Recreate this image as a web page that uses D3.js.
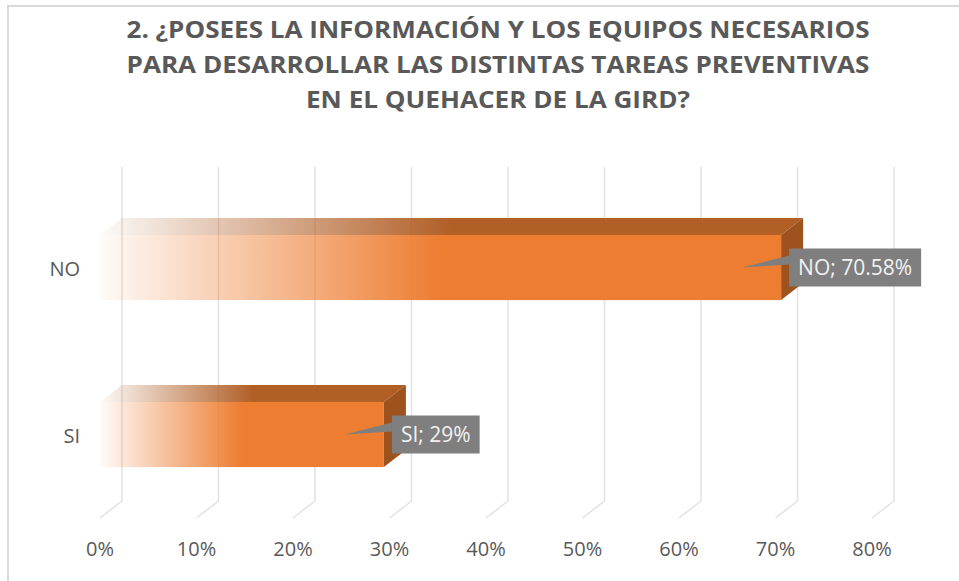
<!DOCTYPE html>
<html>
<head>
<meta charset="utf-8">
<script src="https://cdn.jsdelivr.net/npm/d3@7/dist/d3.min.js"></script>
<style>
  html, body { margin: 0; padding: 0; background: #fff; }
  svg { display: block; }
</style>
</head>
<body>
<svg id="chart"></svg>
<script>
// data
const titleLines = [
  "2. ¿POSEES LA INFORMACIÓN Y LOS EQUIPOS NECESARIOS",
  "PARA DESARROLLAR LAS DISTINTAS TAREAS PREVENTIVAS",
  "EN EL QUEHACER DE LA GIRD?"
];
const categories = ["NO", "SI"];
const values = [70.58, 29.42];
const labelTexts = ["NO; 70.58%", "SI; 29%"];
const tickValues = [0, 10, 20, 30, 40, 50, 60, 70, 80];

// layout
const width = 959,
  height = 581,
  depth = { dx: 22, dy: -17 },
  frontColor = "#ED7D31",
  topColor = "#B15F27",
  sideColor = "#9E521E",
  gridColor = "#e2e2e2",
  textColor = "#595959",
  font = "'Open Sans', 'DejaVu Sans', sans-serif";

const svg = d3.select("#chart").attr("width", width).attr("height", height);

// chart frame
svg.append("rect")
  .attr("x", 8).attr("y", 6)
  .attr("width", width + 20).attr("height", height + 20)
  .attr("fill", "#fff")
  .attr("stroke", "#d9d9d9")
  .attr("stroke-width", 2);

// title
const titleWidths = [743, 743, 384];
svg.append("g").selectAll("text")
  .data(titleLines)
  .join("text")
  .attr("x", 498)
  .attr("y", (d, i) => 38 + i * 35)
  .attr("text-anchor", "middle")
  .attr("font-family", font)
  .attr("font-weight", 700)
  .attr("font-size", 23)
  .attr("fill", textColor)
  .attr("textLength", (d, i) => titleWidths[i])
  .attr("lengthAdjust", "spacingAndGlyphs")
  .text(d => d);

// scales
const x = d3.scaleLinear().domain([0, 80]).range([100, 872]);
const y = d3.scaleBand()
  .domain(categories)
  .range([184, 518])
  .paddingInner(0.61)
  .paddingOuter(0.305);

const yTop = y.range()[0], yBottom = y.range()[1];

// gridlines: back wall verticals + floor diagonals
const grid = svg.append("g");
grid.selectAll("path")
  .data(tickValues)
  .join("path")
  .attr("d", d => {
    const xb = x(d) + depth.dx;
    return "M" + xb + "," + (yTop + depth.dy) +
      "L" + xb + "," + (yBottom + depth.dy) +
      "L" + x(d) + "," + yBottom;
  })
  .attr("fill", "none")
  .attr("stroke", gridColor)
  .attr("stroke-width", 1.5);

// x axis labels
svg.append("g").selectAll("text")
  .data(tickValues)
  .join("text")
  .attr("x", d => x(d))
  .attr("y", 556)
  .attr("text-anchor", "middle")
  .attr("font-family", font)
  .attr("font-size", 20)
  .attr("fill", textColor)
  .text(d => d + "%");

// category labels
svg.append("g").selectAll("text")
  .data(categories)
  .join("text")
  .attr("x", 80)
  .attr("y", d => y(d) + y.bandwidth() / 2 + 8)
  .attr("text-anchor", "end")
  .attr("font-family", font)
  .attr("font-size", 20)
  .attr("fill", textColor)
  .text(d => d);

// fading gradients for front and top faces
const defs = svg.append("defs");
function fade(id, color) {
  const g = defs.append("linearGradient")
    .attr("id", id)
    .attr("x1", 0).attr("x2", 1).attr("y1", 0).attr("y2", 0);
  g.append("stop").attr("offset", 0).attr("stop-color", color).attr("stop-opacity", 0.03);
  g.append("stop").attr("offset", 0.5).attr("stop-color", color).attr("stop-opacity", 1);
  g.append("stop").attr("offset", 1).attr("stop-color", color).attr("stop-opacity", 1);
}
fade("fadeFront", frontColor);
fade("fadeTop", topColor);

const rows = categories.map((c, i) => ({ cat: c, value: values[i], label: labelTexts[i] }));

const bars = svg.append("g").selectAll("g")
  .data(rows)
  .join("g");

// top face
bars.append("path")
  .attr("d", d => {
    const x0 = x(0), x1 = x(d.value), yy = y(d.cat);
    return "M" + x0 + "," + yy + "L" + x1 + "," + yy +
      "L" + (x1 + depth.dx) + "," + (yy + depth.dy) +
      "L" + (x0 + depth.dx) + "," + (yy + depth.dy) + "Z";
  })
  .attr("fill", "url(#fadeTop)");

// side face
bars.append("path")
  .attr("d", d => {
    const x1 = x(d.value), yy = y(d.cat), h = y.bandwidth();
    return "M" + x1 + "," + yy +
      "L" + (x1 + depth.dx) + "," + (yy + depth.dy) +
      "L" + (x1 + depth.dx) + "," + (yy + h + depth.dy) +
      "L" + x1 + "," + (yy + h) + "Z";
  })
  .attr("fill", sideColor);

// front face
bars.append("rect")
  .attr("x", x(0))
  .attr("y", d => y(d.cat))
  .attr("width", d => x(d.value) - x(0))
  .attr("height", y.bandwidth())
  .attr("fill", "url(#fadeFront)");

// data label callouts
const labels = svg.append("g").selectAll("g")
  .data(rows)
  .join("g")
  .attr("transform", d => "translate(" + (x(d.value) + 8) + "," + (y(d.cat) + y.bandwidth() / 2) + ")");

labels.append("text")
  .attr("x", 9)
  .attr("y", 7.5)
  .attr("font-family", font)
  .attr("font-size", 21)
  .attr("fill", "#f2f2f2")
  .text(d => d.label);

labels.each(function(d) {
  const g = d3.select(this);
  const w = g.select("text").node().getComputedTextLength() + 18;
  g.insert("path", "text")
    .attr("d", "M0,-12L0,-3L-47,0Z")
    .attr("fill", "#7f7f7f");
  g.insert("rect", "text")
    .attr("x", 0).attr("y", -19)
    .attr("width", w).attr("height", 38)
    .attr("fill", "#7f7f7f");
});
</script>
</body>
</html>
